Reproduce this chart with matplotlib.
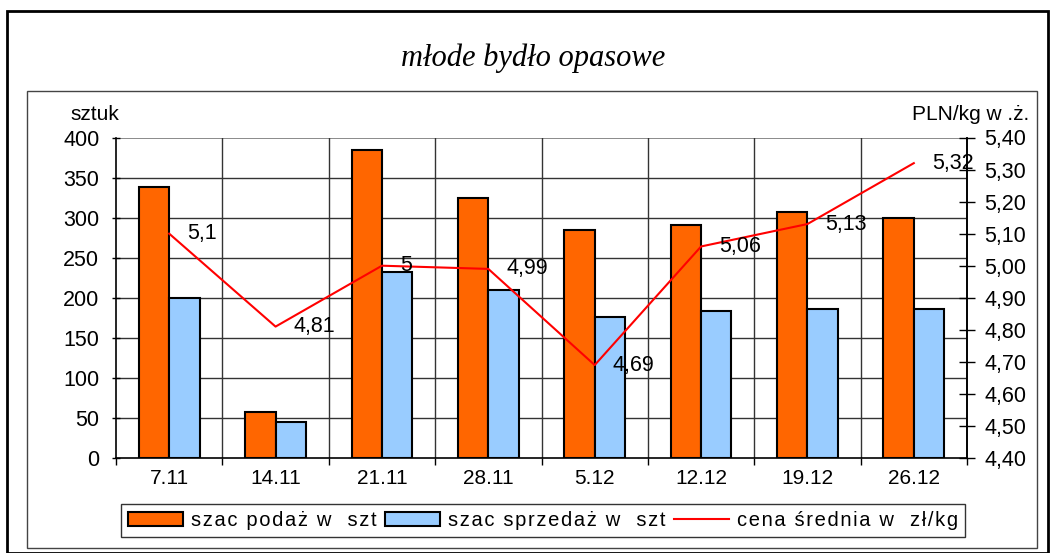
import matplotlib
matplotlib.use("Agg")
import matplotlib.pyplot as plt
import numpy as np
from matplotlib.patches import Rectangle, Patch
from matplotlib.lines import Line2D
from matplotlib.ticker import FuncFormatter, MultipleLocator

plt.rcParams['font.family'] = ['Liberation Sans', 'DejaVu Sans']

# dane
tygodnie = ['7.11', '14.11', '21.11', '28.11', '5.12', '12.12', '19.12', '26.12']
podaz = [338, 58, 384, 324, 285, 291, 307, 300]
sprzedaz = [200, 45, 232, 210, 176, 184, 186, 186]
cena = [5.10, 4.81, 5.00, 4.99, 4.69, 5.06, 5.13, 5.32]
etykiety = ['szac podaż w  szt', 'szac sprzedaż w  szt', 'cena średnia w  zł/kg']


def rozstrzel(s):
    # odstepy miedzy literami jak w excelu
    return '\u200a'.join(s)


W, H = 1050, 553
fig = plt.figure(figsize=(W / 100, H / 100), dpi=100)

# ramki wykresu
fig.patches.append(Rectangle((7 / W, 0), 1041 / W, 1 - 11 / H, transform=fig.transFigure,
                             fill=False, edgecolor='black', linewidth=2))
fig.patches.append(Rectangle((27 / W, 1 - 548 / H), 1010 / W, 457 / H, transform=fig.transFigure,
                             fill=False, edgecolor='#444444', linewidth=1))

ax = fig.add_axes([116 / W, 1 - 458 / H, 851 / W, 320.5 / H])
x = np.arange(len(tygodnie))
bw = 0.285
ax.bar(x - bw / 2, podaz, bw, color='#FF6600', edgecolor='black', linewidth=1.5, zorder=3)
ax.bar(x + bw / 2, sprzedaz, bw, color='#99CCFF', edgecolor='black', linewidth=1.5, zorder=3)

ax.set_xlim(-0.5, len(tygodnie) - 0.5)
ax.set_ylim(0, 400)
ax.yaxis.set_major_locator(MultipleLocator(50))
ax.set_xticks(x)
ax.set_xticklabels(tygodnie, fontsize=15)
ax.set_xticks(np.arange(-0.5, len(tygodnie)), minor=True)
ax.tick_params(axis='x', which='major', length=0, pad=8)
ax.tick_params(axis='x', which='minor', length=5, width=1, direction='out')
ax.tick_params(axis='y', labelsize=15.5, length=6, width=1, direction='inout', pad=9)
for v in np.arange(50, 400, 50):
    ax.axhline(v, color='#333333', linewidth=1, zorder=1)
ax.axhline(400, color='#777777', linewidth=1.2, zorder=1)
for b in np.arange(0.5, len(tygodnie) - 0.5):
    ax.axvline(b, color='#333333', linewidth=1, zorder=1)
ax.spines['top'].set_visible(False)
for s in ['left', 'bottom', 'right']:
    ax.spines[s].set_linewidth(1.2)

ax2 = ax.twinx()
ax2.plot(x, cena, color='#FF0000', linewidth=1.5, zorder=5)
ax2.set_ylim(4.40, 5.40)
ax2.yaxis.set_major_locator(MultipleLocator(0.1))
ax2.yaxis.set_major_formatter(FuncFormatter(lambda v, p: f'{v:.2f}'.replace('.', ',')))
ax2.tick_params(axis='y', labelsize=15.5, length=11, width=1, direction='inout', pad=7)
for s in ['top', 'left', 'bottom']:
    ax2.spines[s].set_visible(False)
ax2.spines['right'].set_linewidth(1.2)
for xi, c in zip(x, cena):
    ax2.annotate(f'{c:g}'.replace('.', ','), (xi, c), xytext=(13, 0), textcoords='offset points',
                 fontsize=15.5, va='center', ha='left', annotation_clip=False, zorder=6)

fig.text(533 / W, 1 - 58 / H, 'młode bydło opasowe', family='Liberation Serif', style='italic',
         fontsize=22, ha='center', va='center')
fig.text(95 / W, 1 - 114 / H, 'sztuk', fontsize=15, ha='center', va='center')
fig.text(1029 / W, 1 - 114 / H, 'PLN/kg w .ż.', fontsize=15, ha='right', va='center')

handles = [Patch(facecolor='#FF6600', edgecolor='black', linewidth=1.5),
           Patch(facecolor='#99CCFF', edgecolor='black', linewidth=1.5),
           Line2D([0], [0], color='#FF0000', linewidth=1.5)]
leg = fig.legend(handles, [rozstrzel(e) for e in etykiety], loc='center',
                 bbox_to_anchor=(543 / W, 1 - 520.5 / H), ncol=3,
                 fontsize=14.5, frameon=True, fancybox=False, handlelength=2.7, handleheight=0.65,
                 handletextpad=0.4, columnspacing=0.45, borderpad=0.35, borderaxespad=0)
leg.get_frame().set_edgecolor('black')
leg.get_frame().set_linewidth(1)

fig.savefig('out.png', dpi=100)
